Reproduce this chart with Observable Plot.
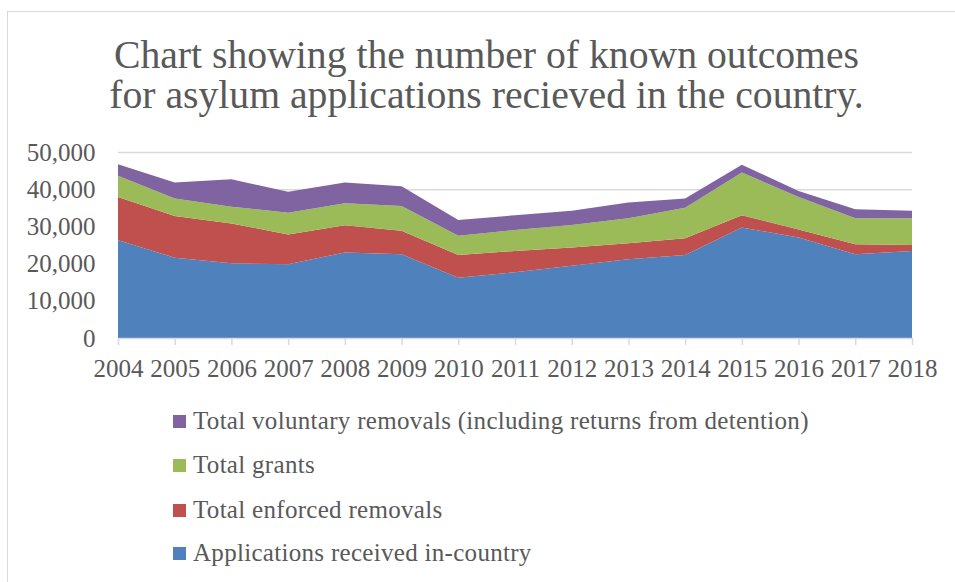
<!DOCTYPE html>
<html>
<head>
<meta charset="utf-8">
<script src="https://cdn.jsdelivr.net/npm/d3@7"></script>
<script src="https://cdn.jsdelivr.net/npm/@observablehq/plot@0.6"></script>
<style>
  html, body { margin: 0; padding: 0; background: #fff; width: 955px; height: 582px; overflow: hidden; }
  body { position: relative; font-family: "Liberation Serif", serif; color: #595959; }
  #frame { position: absolute; left: 7px; top: 11px; width: 1000px; height: 700px;
           border-top: 1.5px solid #d9d9d9; border-left: 1.5px solid #d9d9d9; }
  #title { position: absolute; left: 0; width: 973px; top: 35px; text-align: center;
           font-size: 39.7px; line-height: 40px; color: #595959; }
  #chart { position: absolute; left: 0; top: 130px; }
  .leg { position: absolute; left: 173px; height: 30px; display: flex; align-items: center; }
  .sw { width: 13px; height: 13px; margin-right: 7px; }
  .lt { font-size: 25px; letter-spacing: 0.3px; color: #595959; white-space: nowrap; }
</style>
</head>
<body>
<div id="frame"></div>
<div id="title">Chart showing the number of known outcomes<br>for asylum applications recieved in the country.</div>
<div id="chart"></div>
<div id="legend"></div>
<script>
const years = [2004, 2005, 2006, 2007, 2008, 2009, 2010, 2011, 2012, 2013, 2014, 2015, 2016, 2017, 2018];
const applications = [26300, 21600, 20100, 19800, 23000, 22500, 16200, 17700, 19400, 21200, 22300, 29700, 27000, 22500, 23400];
const enforced    = [11600, 11200, 10700, 8000, 7300, 6300, 6100, 5700, 4900, 4300, 4500, 3300, 2200, 2700, 1600];
const grants      = [5700, 4700, 4500, 5900, 5900, 6700, 5200, 5600, 6100, 6700, 8200, 11500, 8700, 7000, 7200];
const voluntary   = [3100, 4300, 7400, 5600, 5600, 5300, 4200, 4000, 3800, 4200, 2500, 2100, 1600, 2400, 2000];
const seriesNames = ["Applications received in-country", "Total enforced removals", "Total grants", "Total voluntary removals (including returns from detention)"];
const seriesColors = ["#4f81bd", "#c0504d", "#9bbb59", "#8064a2"];
const yTicks = [0, 10000, 20000, 30000, 40000, 50000];

const seriesValues = [applications, enforced, grants, voluntary];
const rows = [];
seriesNames.forEach((name, si) => {
  years.forEach((yr, i) => rows.push({year: yr, series: name, value: seriesValues[si][i]}));
});

const chart = Plot.plot({
  width: 955,
  height: 260,
  marginLeft: 118,
  marginRight: 43,
  marginTop: 22,
  marginBottom: 52,
  style: {fontFamily: "Liberation Serif, serif", fontSize: "25px", color: "#595959", background: "transparent"},
  x: {domain: [2004, 2018]},
  y: {domain: [0, 50000]},
  color: {domain: seriesNames, range: seriesColors},
  marks: [
    Plot.gridY(yTicks.filter(d => d > 0), {stroke: "#d9d9d9", strokeOpacity: 1, strokeWidth: 1.5}),
    Plot.areaY(rows, {x: "year", y: "value", fill: "series", z: "series", order: seriesNames}),
    Plot.ruleY([0], {stroke: "#d9d9d9", strokeWidth: 1.5}),
    Plot.axisX({ticks: years, tickFormat: d => String(d), tickSize: 7, tickPadding: 14, stroke: "#d9d9d9", strokeWidth: 1.5, fill: "#595959", label: null}),
    Plot.axisY({ticks: yTicks, tickFormat: d3.format(","), tickSize: 0, tickPadding: 23, fill: "#595959", label: null})
  ]
});
document.getElementById("chart").appendChild(chart);

const legendRows = [
  {idx: 3, y: 421},
  {idx: 2, y: 465},
  {idx: 1, y: 510},
  {idx: 0, y: 553}
];
const leg = document.getElementById("legend");
legendRows.forEach(r => {
  const d = document.createElement("div");
  d.className = "leg";
  d.style.top = (r.y - 15) + "px";
  const sw = document.createElement("div");
  sw.className = "sw";
  sw.style.background = seriesColors[r.idx];
  const t = document.createElement("span");
  t.className = "lt";
  t.textContent = seriesNames[r.idx];
  d.appendChild(sw); d.appendChild(t);
  leg.appendChild(d);
});
</script>
</body>
</html>
